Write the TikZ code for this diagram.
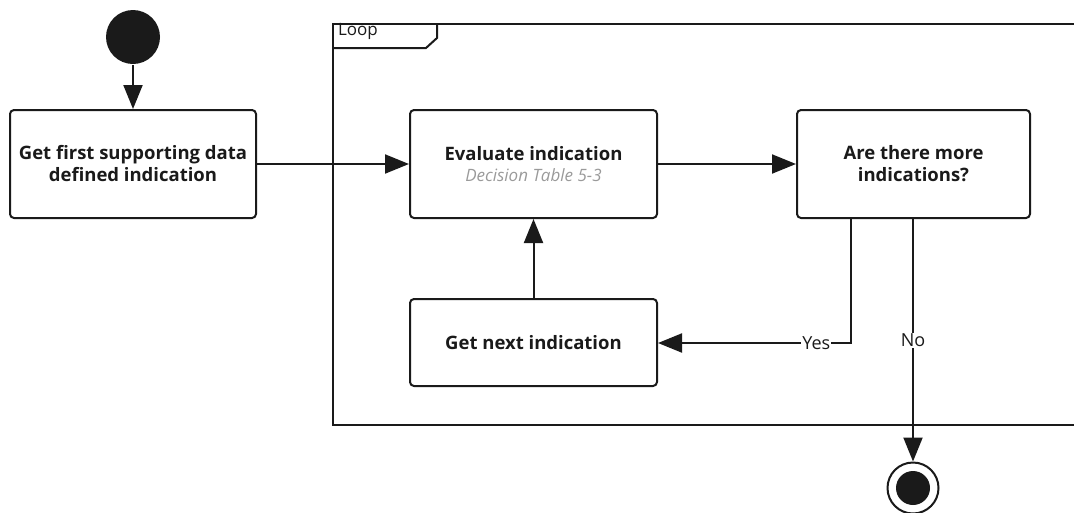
\documentclass[tikz,border=0pt]{standalone}
\usepackage{fontspec}
\setmainfont{Open Sans}
\usetikzlibrary{arrows.meta}
\definecolor{ink}{HTML}{1A1A1A}
\definecolor{subgray}{HTML}{9A9A9A}
\begin{document}
\begin{tikzpicture}[x=1pt,y=-1pt,
  line width=2pt,
  actbox/.style={draw=ink, rounded corners=4pt, inner sep=0pt, align=center,
     font=\bfseries\fontsize{18.5}{22}\selectfont, text=ink},
  flow/.style={draw=ink, -{Triangle[length=24pt,width=19pt]}},
  lbl/.style={fill=white, inner sep=1pt, font=\fontsize{18}{20}\selectfont, text=ink}]
\useasboundingbox (0,0) rectangle (1074,512);
% loop frame
\draw[ink] (1100,24) -- (333,24) -- (333,425) -- (1100,425);
\draw[ink] (333,48) -- (426,48) -- (437,38) -- (437,24);
\node[anchor=north west, inner sep=0pt, font=\fontsize{17}{19}\selectfont, text=ink] (looplbl) at (337,22) {Loop};
% nodes
\node[circle, fill=ink, minimum size=54pt, inner sep=0pt] (start) at (133,37) {};
\node[actbox, minimum width=246pt, minimum height=108pt] (first) at (133,164) {Get first supporting data\\defined indication};
\node[actbox, minimum width=247pt, minimum height=108pt] (eval) at (533.5,164) {Evaluate indication\\[-1pt]{\mdseries\itshape\fontsize{17}{19}\selectfont\color{subgray}Decision Table 5-3}};
\node[actbox, minimum width=233pt, minimum height=108pt] (more) at (913.5,164) {Are there more\\indications?};
\node[actbox, minimum width=247pt, minimum height=87pt] (next) at (533.5,342.5) {Get next indication};
\node[circle, draw=ink, line width=2pt, minimum size=51pt, inner sep=0pt] (final) at (913,488) {};
\node[circle, fill=ink, minimum size=34pt, inner sep=0pt] (finaldot) at (913,488) {};
\coordinate (ycorner) at (851,343);
% connectors
\draw[flow] (start) -- (first);
\draw[flow] (first) -- (eval);
\draw[flow] (eval) -- (more);
\draw[flow] (next) -- (eval);
\draw[flow] (more.south -| ycorner) -- (ycorner) -- node[lbl, pos=0.18] {Yes} (next.east |- ycorner);
\draw[flow] (more.south -| final) -- node[lbl, pos=0.5] {No} (final.north);
\end{tikzpicture}
\end{document}
